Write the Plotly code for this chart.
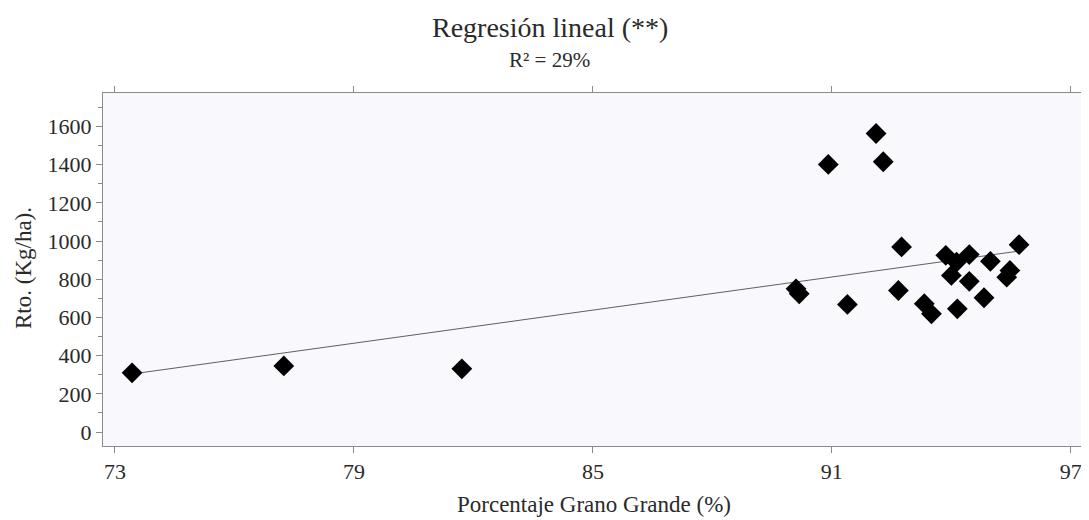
import numpy as np
import plotly.graph_objects as go

# Data
grano_grande = [73.43, 77.24, 81.71, 90.10, 90.18, 90.91, 91.39, 92.11, 92.29,
                92.75, 92.67, 93.32, 93.50, 94.15, 93.86, 94.13, 94.45, 94.00,
                94.45, 94.98, 94.82, 95.47, 95.39, 95.70]
rendimiento = [310, 346, 331, 750, 724, 1401, 668, 1563, 1415,
               969, 741, 672, 619, 645, 925, 890, 929, 820,
               789, 894, 703, 846, 811, 981]

x_ticks = [73, 79, 85, 91, 97]
y_ticks = [0, 200, 400, 600, 800, 1000, 1200, 1400, 1600]

# Linear regression fit from the data
slope, intercept = np.polyfit(grano_grande, rendimiento, 1)
fit_x = np.array([min(grano_grande), max(grano_grande)])
fit_y = intercept + slope * fit_x

font_family = "Liberation Serif"
txt = "#2a2a2a"

# the page body adds an 8 px offset; work in screen pixels and subtract it
OFF = 8
W, H = 1089 - OFF, 520 - OFF
L, R, T, B = 103 - OFF, 1082 - OFF, 93 - OFF, 446 - OFF

fig = go.Figure()
fig.add_trace(go.Scatter(x=fit_x, y=fit_y, mode="lines",
                         line=dict(color="#606060", width=1), showlegend=False,
                         hoverinfo="skip"))
fig.add_trace(go.Scatter(x=grano_grande, y=rendimiento, mode="markers",
                         marker=dict(symbol="diamond", size=16, color="black"),
                         showlegend=False))

axis_common = dict(showgrid=False, zeroline=False, showline=True, automargin=False,
                   linecolor="#8a8a8a", linewidth=1, mirror="ticks",
                   ticks="outside", tickcolor="#8a8a8a", ticklen=6,
                   tickfont=dict(family=font_family, size=22, color=txt))

fig.update_xaxes(range=[72.7, 97.28], tickvals=x_ticks, **axis_common)
fig.update_yaxes(range=[-73, 1775], tickvals=y_ticks,
                 minor=dict(tickvals=list(range(100, 1800, 200)), ticks="outside",
                            ticklen=4, tickcolor="#8a8a8a"),
                 **axis_common)

fig.update_layout(
    width=W, height=H,
    margin=dict(l=L, r=W - R, t=T, b=H - B),
    plot_bgcolor="#f8f8fd", paper_bgcolor="white",
    font=dict(family=font_family),
)


def px_x(p):
    return (p - OFF - L) / (R - L)


def px_y(p):
    return (B - (p - OFF)) / (B - T)


fig.add_annotation(text="Regresión lineal (**)", xref="paper", yref="paper",
                   x=px_x(550), y=px_y(27), xanchor="center", yanchor="middle",
                   showarrow=False, font=dict(family=font_family, size=28, color=txt))
fig.add_annotation(text="R² = 29%", xref="paper", yref="paper",
                   x=px_x(549), y=px_y(60), xanchor="center", yanchor="middle",
                   showarrow=False, font=dict(family=font_family, size=21, color=txt))
fig.add_annotation(text="Porcentaje Grano Grande (%)", xref="paper", yref="paper",
                   x=px_x(594), y=px_y(504), xanchor="center", yanchor="middle",
                   showarrow=False, font=dict(family=font_family, size=23, color=txt))
fig.add_annotation(text="Rto. (Kg/ha).", xref="paper", yref="paper",
                   x=px_x(23), y=px_y(268), xanchor="center", yanchor="middle",
                   textangle=-90, showarrow=False,
                   font=dict(family=font_family, size=23, color=txt))

fig.write_html("out.html")
